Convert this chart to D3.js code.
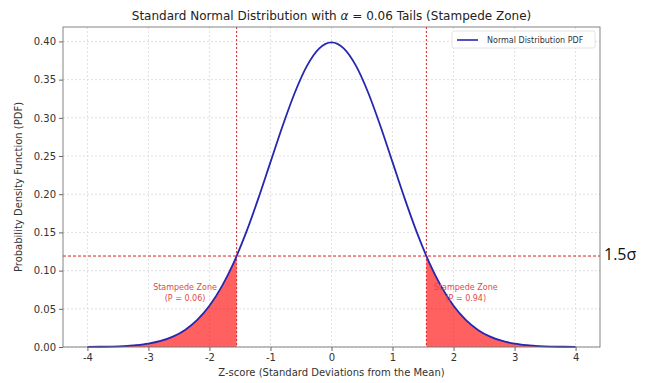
<!DOCTYPE html>
<html><head><meta charset="utf-8">
<script src="https://cdn.jsdelivr.net/npm/d3@7"></script>
<style>body{margin:0;background:#fff}svg{display:block}</style>
</head><body><svg id="c" width="656" height="383"></svg>
<script>
// z-scores and read-off density values
const zValues = [-4,-3.8,-3.6,-3.4,-3.2,-3,-2.8,-2.6,-2.4,-2.2,-2,-1.8,-1.6,-1.555,-1.4,-1.2,-1,-0.8,-0.6,-0.4,-0.2,0,0.2,0.4,0.6,0.8,1,1.2,1.4,1.555,1.6,1.8,2,2.2,2.4,2.6,2.8,3,3.2,3.4,3.6,3.8,4];
const pdfValues = [0.0001,0.0003,0.0006,0.0012,0.0024,0.0044,0.0079,0.0136,0.0224,0.0355,0.0540,0.0790,0.1109,0.1191,0.1497,0.1942,0.2420,0.2897,0.3332,0.3683,0.3910,0.3989,0.3910,0.3683,0.3332,0.2897,0.2420,0.1942,0.1497,0.1191,0.1109,0.0790,0.0540,0.0355,0.0224,0.0136,0.0079,0.0044,0.0024,0.0012,0.0006,0.0003,0.0001];
const cutoffZ = 1.555;
const cutoffPdf = 0.1191;
const xTicks = [-4,-3,-2,-1,0,1,2,3,4];
const yTicks = [0,0.05,0.10,0.15,0.20,0.25,0.30,0.35,0.40];
const leftLabel = ["Stampede Zone","(P = 0.06)"];
const rightLabel = ["Stampede Zone","(P = 0.94)"];

const data = zValues.map((z,i)=>({z, p: pdfValues[i]}));
const svg = d3.select("#c");
const L=63, R=600, T=27, B=347;
const x = d3.scaleLinear().domain([-4.4,4.4]).range([L,R]);
const y = d3.scaleLinear().domain([0,0.4189]).range([B,T]);
const font = "DejaVu Sans, sans-serif";

// grid
const g = svg.append("g");
g.selectAll(".gx").data(xTicks).join("line")
  .attr("x1",d=>x(d)).attr("x2",d=>x(d)).attr("y1",T).attr("y2",B)
  .attr("stroke","#d8d8d8").attr("stroke-dasharray","2,2").attr("stroke-width",0.8);
g.selectAll(".gy").data(yTicks).join("line")
  .attr("x1",L).attr("x2",R).attr("y1",d=>y(d)).attr("y2",d=>y(d))
  .attr("stroke","#d8d8d8").attr("stroke-dasharray","2,2").attr("stroke-width",0.8);

// fill tails
const area = d3.area().x(d=>x(d.z)).y0(y(0)).y1(d=>y(d.p)).curve(d3.curveMonotoneX);
svg.append("path").datum(data.filter(d=>d.z<=-cutoffZ)).attr("d",area).attr("fill","rgba(255,0,0,0.62)");
svg.append("path").datum(data.filter(d=>d.z>=cutoffZ)).attr("d",area).attr("fill","rgba(255,0,0,0.62)");

// red reference lines
[-cutoffZ, cutoffZ].forEach(z=>{
  svg.append("line").attr("x1",x(z)).attr("x2",x(z)).attr("y1",T).attr("y2",B)
    .attr("stroke","#e02020").attr("stroke-width",1).attr("stroke-dasharray","2,2");
});
svg.append("line").attr("x1",L).attr("x2",R).attr("y1",y(cutoffPdf)).attr("y2",y(cutoffPdf))
  .attr("stroke","#e02020").attr("stroke-width",1).attr("stroke-dasharray","3,2");

// curve
const line = d3.line().x(d=>x(d.z)).y(d=>y(d.p)).curve(d3.curveMonotoneX);
svg.append("path").datum(data).attr("d",line).attr("fill","none").attr("stroke","#2626b0").attr("stroke-width",1.8);

// frame
svg.append("rect").attr("x",L).attr("y",T).attr("width",R-L).attr("height",B-T)
  .attr("fill","none").attr("stroke","#777").attr("stroke-width",0.9);

// axes
const xa = svg.append("g").attr("transform",`translate(0,${B})`)
  .call(d3.axisBottom(x).tickValues(xTicks).tickSize(4).tickPadding(3).tickFormat(d3.format("d")));
const ya = svg.append("g").attr("transform",`translate(${L},0)`)
  .call(d3.axisLeft(y).tickValues(yTicks).tickSize(4).tickPadding(3).tickFormat(d3.format(".2f")));
[xa,ya].forEach(a=>{
  a.select(".domain").remove();
  a.selectAll("line").attr("stroke","#666");
  a.selectAll("text").attr("font-family",font).attr("font-size",10).attr("fill","#333");
});
xa.selectAll("text").text(d=>d<0?"-"+Math.abs(d):d);

// annotations
const ann = (lines, cx) => {
  lines.forEach((t,i)=>svg.append("text").attr("x",cx).attr("y",290+i*11).attr("text-anchor","middle")
    .attr("font-family",font).attr("font-size",8).attr("fill","#e04848").text(t));
};
ann(leftLabel, x(-2.4));
ann(rightLabel, x(2.2));

// title and labels
svg.append("text").attr("x",(L+R)/2).attr("y",20).attr("text-anchor","middle")
  .attr("font-family",font).attr("font-size",12).attr("fill","#222")
  .html("Standard Normal Distribution with <tspan font-style='italic'>α</tspan> = 0.06 Tails (Stampede Zone)");
svg.append("text").attr("x",(L+R)/2).attr("y",376).attr("text-anchor","middle")
  .attr("font-family",font).attr("font-size",10).attr("fill","#333")
  .text("Z-score (Standard Deviations from the Mean)");
svg.append("text").attr("transform",`translate(22,${(T+B)/2}) rotate(-90)`).attr("text-anchor","middle")
  .attr("font-family",font).attr("font-size",10).attr("fill","#333")
  .text("Probability Density Function (PDF)");

// legend
const lg = svg.append("g");
lg.append("rect").attr("x",452).attr("y",31).attr("width",143).attr("height",17).attr("rx",2)
  .attr("fill","#fff").attr("stroke","#ddd").attr("stroke-width",0.8);
lg.append("line").attr("x1",457).attr("x2",478).attr("y1",40).attr("y2",40).attr("stroke","#2626b0").attr("stroke-width",1.6);
lg.append("text").attr("x",487).attr("y",43).attr("font-family",font).attr("font-size",8).attr("fill","#333")
  .text("Normal Distribution PDF");

// external label
svg.append("text").attr("x",604).attr("y",260).attr("font-family","Open Sans, sans-serif").attr("font-size",16).attr("fill","#111")
  .text("1.5σ");
</script></body></html>
